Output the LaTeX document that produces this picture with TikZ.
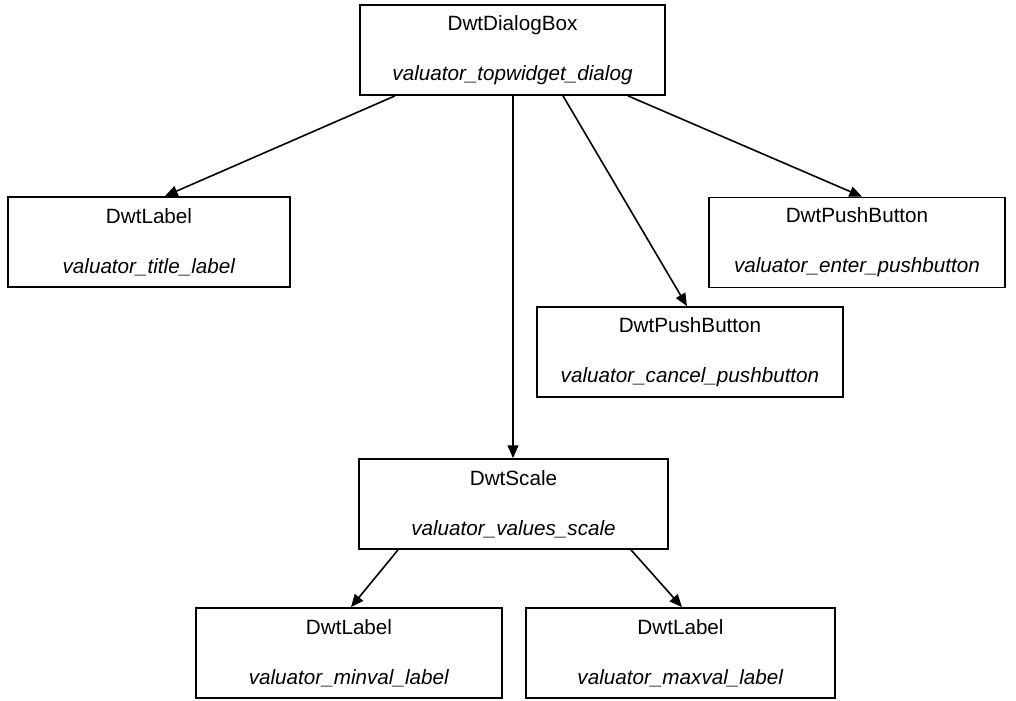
\documentclass[tikz,border=0pt]{standalone}
\usepackage{fontspec}
\setmainfont{Liberation Sans}
\usetikzlibrary{arrows.meta,calc}
\begin{document}
\begin{tikzpicture}[x=0.75pt,y=-0.75pt,
  box/.style={draw,line width=1.3pt,rectangle,inner sep=0pt,align=center,
    minimum height=67.5pt,font=\fontsize{15.5}{37.5}\selectfont},
  arr/.style={line width=1.2pt,-{Triangle[length=9.5pt,width=8pt]}}]
\useasboundingbox (0,0) rectangle (1016,700);
% widget tree
\node[box,minimum width=228.75pt] (top)    at (512.5,50)  {DwtDialogBox\\\textit{valuator\_topwidget\_dialog}};
\node[box,minimum width=211.5pt]  (title)  at (149,242)   {DwtLabel\\\textit{valuator\_title\_label}};
\node[box,minimum width=222pt]    (enter)  at (857,242.5) {DwtPushButton\\\textit{valuator\_enter\_pushbutton}};
\node[box,minimum width=229.5pt]  (cancel) at (690,352)   {DwtPushButton\\\textit{valuator\_cancel\_pushbutton}};
\node[box,minimum width=231.75pt] (scale)  at (513.5,504) {DwtScale\\\textit{valuator\_values\_scale}};
\node[box,minimum width=229.5pt]  (minval) at (349,653)   {DwtLabel\\\textit{valuator\_minval\_label}};
\node[box,minimum width=231.75pt] (maxval) at (680.5,653) {DwtLabel\\\textit{valuator\_maxval\_label}};
% parent-child edges
\draw[arr] ($(top.south)+(-117.5,0)$) -- ($(title.north)+(16,0)$);
\draw[arr] ($(top.south)+(115.5,0)$)  -- ($(enter.north)+(5,0)$);
\draw[arr] ($(top.south)+(50.5,0)$)   -- ($(cancel.north)+(-3,0)$);
\draw[arr] ($(top.south)+(0.5,0)$)    -- ($(scale.north)+(-0.5,0)$);
\draw[arr] ($(scale.south)+(-115.5,0)$) -- ($(minval.north)+(2,0)$);
\draw[arr] ($(scale.south)+(117.5,0)$)  -- ($(maxval.north)+(1.5,0)$);
\end{tikzpicture}
\end{document}
